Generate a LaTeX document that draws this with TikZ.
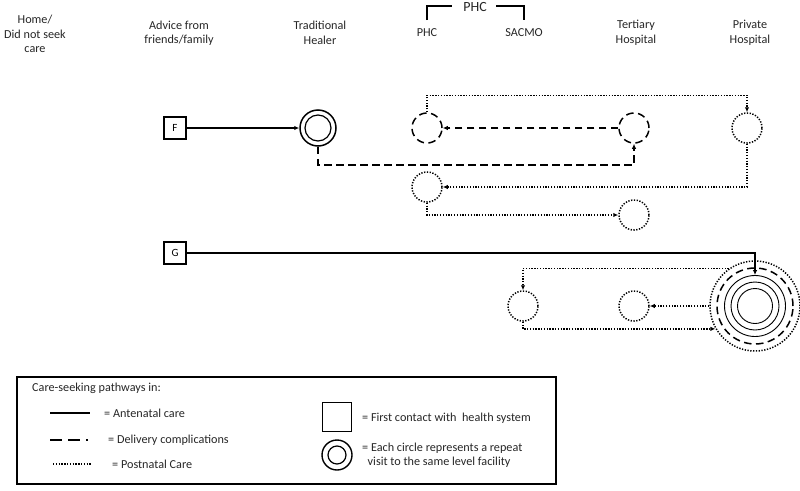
\documentclass[tikz,border=0pt]{standalone}
\usepackage{fontspec}
\setmainfont{Carlito}
\usetikzlibrary{arrows.meta}
\begin{document}
\begin{tikzpicture}[x=1pt,y=-1pt,
  lbl/.style={align=center,font=\fontsize{12.2}{14.5}\selectfont,text=black!85,inner sep=0pt},
  leg/.style={anchor=west,align=left,font=\fontsize{12.2}{14}\selectfont,text=black!85,inner sep=0pt},
  solidln/.style={line width=1.4pt},
  dashln/.style={line width=1.5pt,dash pattern=on 7.5pt off 4.5pt},
  dotln/.style={line width=1.5pt,dash pattern=on 1.3pt off 1.5pt},
  arr/.style={-{Latex[length=5pt,width=4.5pt]}},
  firstbox/.style={draw,line width=1.3pt,minimum size=22pt,inner sep=0pt,font=\fontsize{11}{12}\selectfont},
  circ/.style={circle,minimum size=30pt,inner sep=0pt},
]
\useasboundingbox (0,0) rectangle (800,490);

% column headers
\node[lbl] (hHome) at (35,34) {Home/\\Did not seek\\care};
\node[lbl] (hAdv) at (179,33) {Advice from\\friends/family};
\node[lbl] (hTH) at (320,33) {Traditional\\Healer};
\node[lbl,font=\fontsize{14}{16}\selectfont] (hPHCtop) at (475,7) {PHC};
\node[lbl] (hPHC) at (427,33) {PHC};
\node[lbl] (hSAC) at (524,33) {SACMO};
\node[lbl] (hTer) at (636,33) {Tertiary\\Hospital};
\node[lbl] (hPri) at (750,33) {Private\\Hospital};
\draw[line width=1.2pt] (427,20) -- (427,6) -- (452,6);
\draw[line width=1.2pt] (496,6) -- (524,6) -- (524,20);

% row F
\node[firstbox] (F) at (175,128) {F};
\node[circle,draw,line width=1.5pt,minimum size=36pt,inner sep=0pt] (healer) at (318,128) {};
\node[circle,draw,line width=1.2pt,minimum size=26pt,inner sep=0pt] (healerIn) at (318,128) {};
\node[circ,draw,dashln] (phcA) at (427,128) {};
\node[circ,draw,dashln] (terA) at (634,128) {};
\node[circ,draw,dotln] (priA) at (747,128) {};
\node[circ,draw,dotln] (phcB) at (427,187) {};
\node[circ,draw,dotln] (terB) at (634,215) {};

\draw[solidln,arr] (F.east) -- (healer.west);
\draw[dashln,arr] (healer.south) -- ++(0,18) -| (terA.south);
\draw[dashln,arr] (terA.west) -- (phcA.east);
\draw[dotln,arr] (phcA.north) -- ++(0,-17) -| (priA.north);
\draw[dotln,arr] (priA.south) |- (phcB.east);
\draw[dotln,arr] (phcB.south) |- (terB.west);

% row G
\node[firstbox] (G) at (175,253) {G};
\node[circle,draw,dotln,minimum size=90pt,inner sep=0pt] (bigDot) at (755,306) {};
\node[circle,draw,dashln,minimum size=76pt,inner sep=0pt] (bigDash) at (755,306) {};
\node[circle,draw,line width=0.9pt,minimum size=61pt,inner sep=0pt] (bigS1) at (755,306) {};
\node[circle,draw,line width=0.9pt,minimum size=48pt,inner sep=0pt] (bigS2) at (755,306) {};
\node[circle,draw,line width=0.9pt,minimum size=35pt,inner sep=0pt] (bigS3) at (755,306) {};
\node[circ,draw,dotln] (sacB) at (523,306) {};
\node[circ,draw,dotln] (terC) at (634,306) {};

\draw[solidln,arr] (G.east) -| (bigS1.north);
\draw[dotln,arr] (bigDot.125) -| (sacB.north);
\draw[dotln,arr] (bigDot.west) -- (terC.east);
\draw[dotln,arr] (sacB.south) |- (bigDot.210);

% legend
\draw[line width=1.3pt] (17,377) rectangle (556,484);
\node[leg] (lTitle) at (32,388) {Care-seeking pathways in:};
\draw[solidln] (50,413) -- (90,413);
\node[leg] (lAnte) at (104,413) {= Antenatal care};
\draw[line width=1.6pt] (50,440) -- (62,440);
\draw[line width=1.6pt] (68,440) -- (80,440);
\draw[line width=1.6pt] (86,440) -- (88,440);
\node[leg] (lDel) at (108,440) {= Delivery complications};
\draw[dotln] (53,464) -- (92,464);
\node[leg] (lPost) at (112,464) {= Postnatal Care};
\node[draw,line width=1.3pt,minimum size=29pt,inner sep=0pt] (lSq) at (337,417) {};
\node[leg] (lFirst) at (362,418) {= First contact with\ \ health system};
\node[circle,draw,line width=1.4pt,minimum size=30pt,inner sep=0pt] (lC1) at (337,455) {};
\node[circle,draw,line width=1.2pt,minimum size=18pt,inner sep=0pt] (lC2) at (337,455) {};
\node[leg] (lRep) at (362,455) {= Each circle represents a repeat\\\ \ visit to the same level facility};
\end{tikzpicture}
\end{document}
